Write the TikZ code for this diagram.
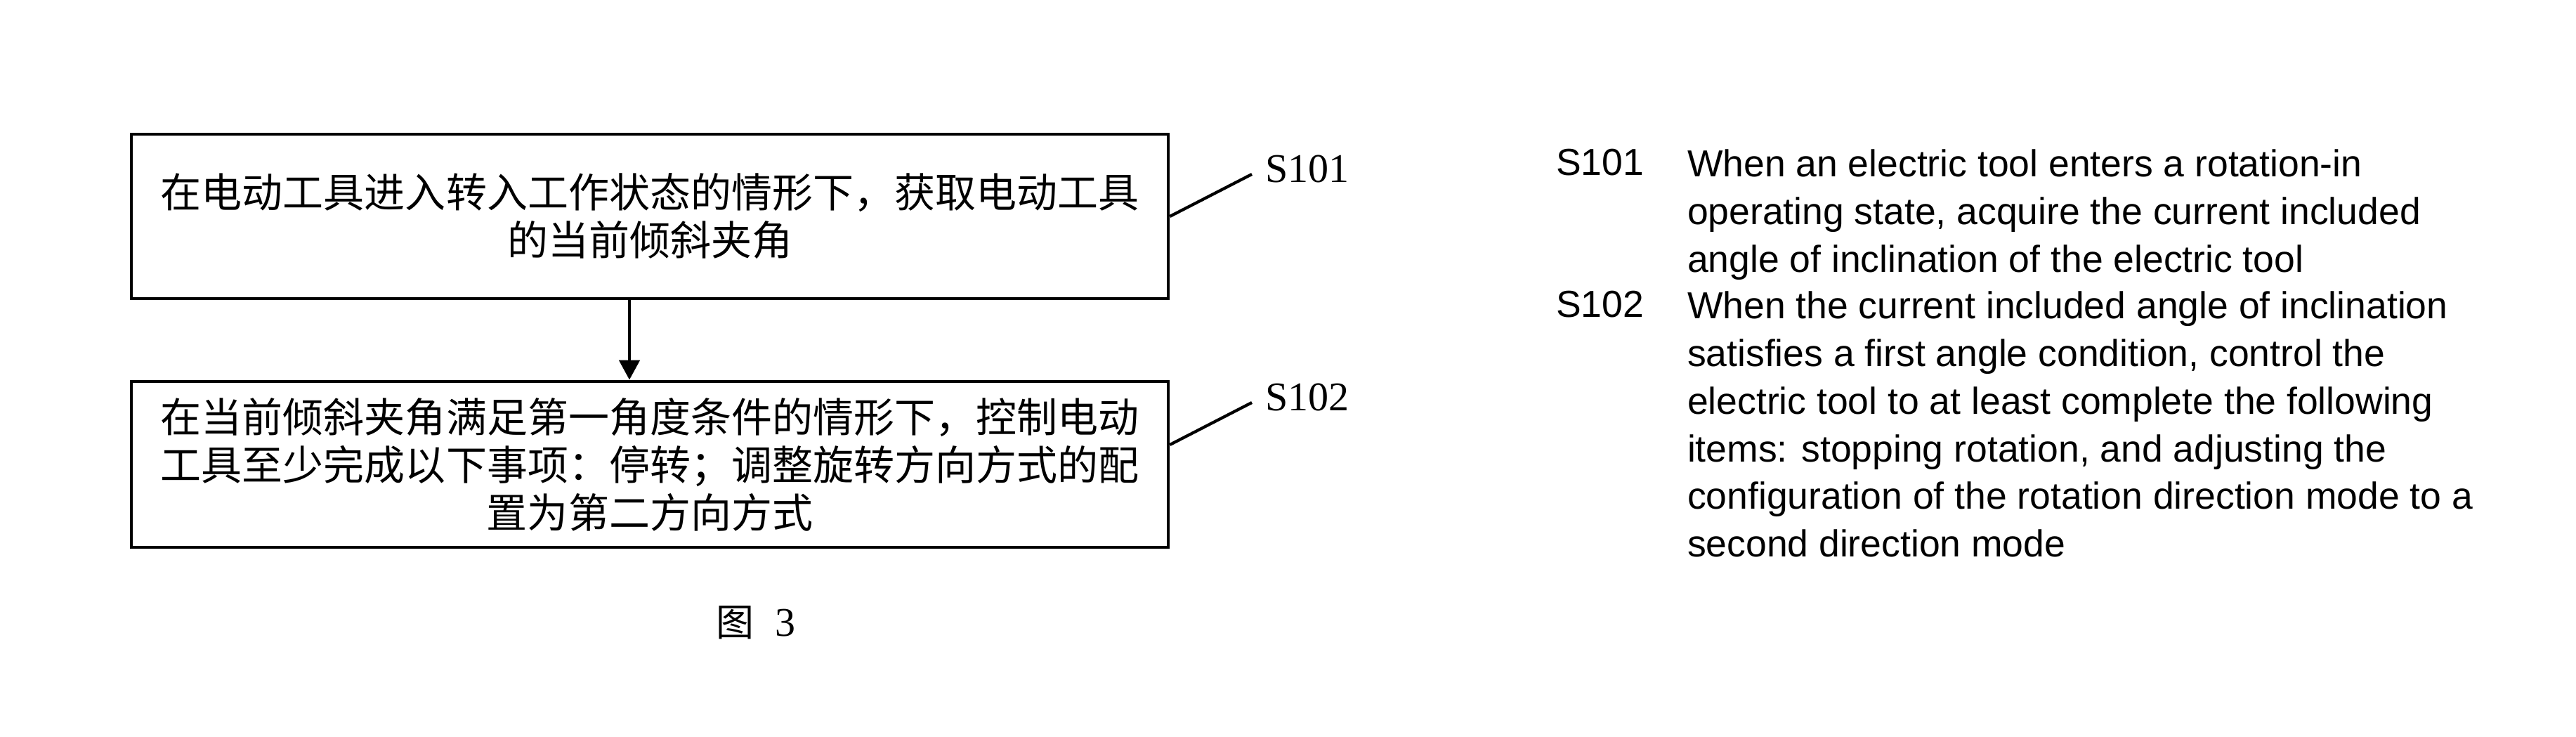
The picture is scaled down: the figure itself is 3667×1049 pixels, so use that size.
\documentclass[tikz,border=0pt]{standalone}
\usepackage{fontspec}
\setmainfont{Liberation Serif}
\newfontfamily\cjk{Noto Sans CJK SC}
\newfontfamily\arial{Liberation Sans}
\usetikzlibrary{arrows.meta}
\begin{document}
\begin{tikzpicture}[x=0.2pt,y=-0.2pt,
  stepbox/.style={draw, line width=0.95pt, minimum width=295.2pt, inner sep=0pt, align=center,
    font=\cjk\fontsize{11.6pt}{13.6pt}\selectfont},
  flow/.style={line width=0.95pt, -{Triangle[length=5.6pt,width=5.8pt]}},
  leader/.style={line width=0.85pt},
  steplabel/.style={font=\fontsize{11.6pt}{13.6pt}\selectfont, inner sep=0pt, anchor=base west},
  desclabel/.style={font=\arial\fontsize{10.7pt}{13.56pt}\selectfont, inner sep=0pt, anchor=north west},
  desc/.style={font=\arial\fontsize{10.7pt}{13.56pt}\selectfont, inner sep=0pt, anchor=north west, align=left},
  caption/.style={font=\fontsize{11.6pt}{13.6pt}\selectfont, inner sep=0pt, anchor=base west}]
\fill[white] (0,0) rectangle (3667,1049);
\useasboundingbox (0,0) rectangle (3667,1049);

% flowchart boxes
\node[stepbox, minimum height=46.8pt] (b1) at (925,308)
  {在电动工具进入转入工作状态的情形下，获取电动工具\\的当前倾斜夹角};
\node[stepbox, minimum height=47.2pt] (b2) at (925,661)
  {在当前倾斜夹角满足第一角度条件的情形下，控制电动\\工具至少完成以下事项：停转；调整旋转方向方式的配\\置为第二方向方式};

\draw[flow] ([xshift=-5.8pt]b1.south) -- ([xshift=-5.8pt]b2.north);

% step labels with leaders
\coordinate (l1) at (1782,248);
\coordinate (l2) at (1782,573);
\draw[leader] (b1.east) -- (l1);
\draw[leader] ([yshift=5.6pt]b2.east) -- (l2);
\node[steplabel] (s1) at (1800,260) {S101};
\node[steplabel] (s2) at (1800,585) {S102};

% caption
\node[caption] (cap) at (1018,906) {{\cjk\fontsize{10.8pt}{13pt}\selectfont 图}\hspace{6pt}3};

% description on the right
\node[desclabel] (r1) at (2214,211) {S101};
\node[desc] (d1) at (2401,212) {When an electric tool enters a rotation-in\\operating state, acquire the current included\\angle of inclination of the electric tool};
\node[desclabel] (r2) at (2214,413) {S102};
\node[desc] (d2) at (2401,414) {When the current included angle of inclination\\satisfies a first angle condition, control the\\electric tool to at least complete the following\\items: stopping rotation, and adjusting the\\configuration of the rotation direction mode to a\\second direction mode};
\end{tikzpicture}
\end{document}
